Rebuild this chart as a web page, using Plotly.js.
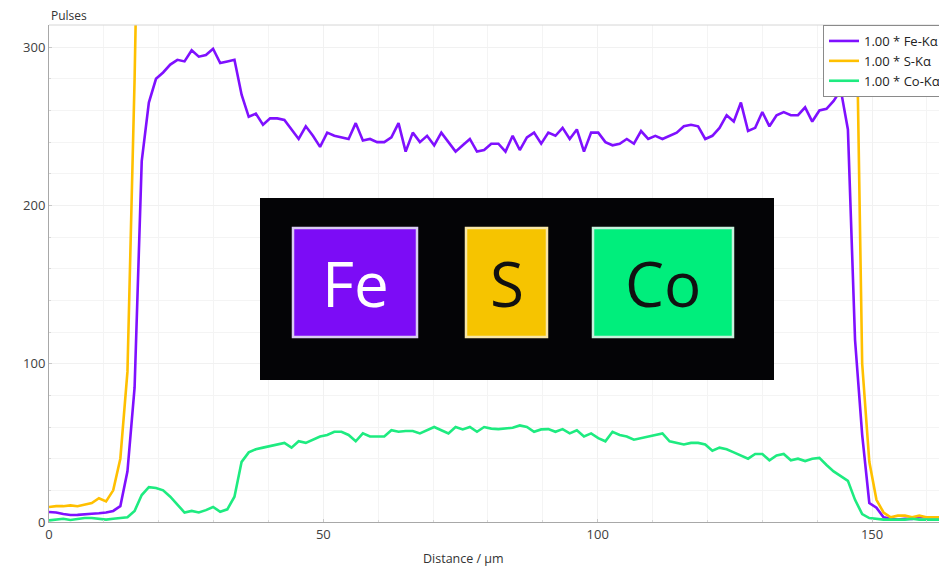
<!DOCTYPE html>
<html>
<head>
<meta charset="utf-8">
<script src="https://cdn.plot.ly/plotly-3.0.1.min.js"></script>
<style>
  html, body { margin: 0; padding: 0; background: #ffffff; }
  #chart { width: 939px; height: 568px; }
</style>
</head>
<body>
<div id="chart"></div>
<script>
// Line scan positions (µm)
const distance = [
  0, 1.3, 2.6, 3.9, 5.2, 6.5, 7.8, 9.1, 10.4, 11.7,
  13.0, 14.3, 15.6, 16.9, 18.2, 19.5, 20.8, 22.1, 23.4, 24.7,
  26.0, 27.3, 28.6, 29.9, 31.2, 32.5, 33.8, 35.1, 36.4, 37.7,
  39.0, 40.3, 41.6, 42.9, 44.2, 45.5, 46.8, 48.1, 49.4, 50.7,
  52.0, 53.3, 54.6, 55.9, 57.2, 58.5, 59.8, 61.1, 62.4, 63.7,
  65.0, 66.3, 67.6, 68.9, 70.2, 71.5, 72.8, 74.1, 75.4, 76.7,
  78.0, 79.3, 80.6, 81.9, 83.2, 84.5, 85.8, 87.1, 88.4, 89.7,
  91.0, 92.3, 93.6, 94.9, 96.2, 97.5, 98.8, 100.1, 101.4, 102.7,
  104.0, 105.3, 106.6, 107.9, 109.2, 110.5, 111.8, 113.1, 114.4, 115.7,
  117.0, 118.3, 119.6, 120.9, 122.2, 123.5, 124.8, 126.1, 127.4, 128.7,
  130.0, 131.3, 132.6, 133.9, 135.2, 136.5, 137.8, 139.1, 140.4, 141.7,
  143.0, 144.3, 145.6, 146.9, 148.2, 149.5, 150.8, 152.1, 153.4, 154.7,
  156.0, 157.3, 158.6, 159.9, 161.2, 162.5
];

// Fe-Kα counts
const feK = [
  6.3, 6, 5, 4.4, 4.5, 5, 5.2, 5.5, 6, 7,
  10, 32, 85, 228, 265, 280, 284, 289, 292, 291,
  298, 294, 295, 299, 290, 291, 292, 270, 256, 258,
  251, 255, 255, 254, 248, 242, 250, 244, 237, 246,
  244, 243, 242, 252, 241, 242, 240, 240, 243, 252,
  234, 246, 240, 244, 238, 246, 240, 234, 238, 242,
  234, 235, 239, 239, 234, 244, 235, 243, 246, 239,
  246, 244, 249, 242, 248, 234, 246, 246, 240, 238,
  239, 242, 239, 247, 242, 244, 242, 244, 246, 250,
  251, 250, 242, 244, 249, 257, 253, 265, 247, 249,
  259, 250, 257, 259, 257, 257, 262, 253, 260, 261,
  266, 273, 248, 115, 55, 12, 9, 3, 2, 1.5,
  2, 2, 3, 3, 3, 3
];

// S-Kα counts (saturates far above the visible range inside the grain)
const sK = [
  9.5, 10, 10, 10.5, 10, 11, 12, 15, 13, 20,
  40, 95, 280, 520, 690, 760, 742, 781, 770, 795,
  806, 788, 812, 799, 784, 776, 790, 752, 731, 744,
  728, 736, 741, 725, 719, 733, 722, 716, 727, 738,
  721, 712, 730, 724, 709, 718, 726, 714, 707, 721,
  713, 729, 718, 704, 716, 722, 711, 703, 719, 726,
  708, 714, 720, 706, 712, 724, 709, 717, 721, 705,
  716, 711, 723, 708, 719, 702, 714, 720, 709, 716,
  722, 707, 713, 725, 711, 718, 706, 714, 721, 727,
  716, 722, 710, 718, 729, 735, 724, 741, 728, 733,
  746, 738, 744, 750, 742, 736, 748, 731, 739, 722,
  684, 612, 520, 380, 100, 38, 14, 6, 3, 4,
  4, 3, 4, 3, 3, 3
];

// Co-Kα counts
const coK = [
  1, 1.5, 2, 1.3, 2, 2.5, 2.5, 2, 1.5, 2,
  2.5, 3, 7, 17, 22, 21.5, 20, 16, 11, 6,
  7, 6, 7.5, 9.5, 6.5, 8, 16, 38, 44, 46,
  47, 48, 49, 50, 47, 51, 50, 52, 54, 55,
  57, 57, 55, 51, 56, 54, 54, 54, 58, 57,
  57.5, 57.5, 56, 58, 60, 58, 56, 60, 58.5, 60,
  57, 60, 59, 58.7, 59, 59.5, 61, 60, 57, 58.5,
  58.7, 57, 58.7, 56, 58, 54, 56, 53, 51, 57,
  55, 54, 52, 53, 54, 55, 56, 51, 50, 49,
  50, 50, 49, 45, 47, 46, 44, 42, 40, 43,
  43, 39, 42, 43, 39, 40, 38.5, 40, 40.5, 36,
  32, 29, 26, 14, 5, 2.5, 2, 1.5, 1.5, 1.5,
  1.5, 2, 1.5, 1.5, 1.5, 1.5
];

const seriesNames = ['1.00 * Fe-Kα', '1.00 * S-Kα', '1.00 * Co-Kα'];
const seriesColors = ['#7F10FF', '#FFC000', '#1EEB80'];
const xTickVals = [0, 50, 100, 150];
const yTickVals = [0, 100, 200, 300];

// Element swatches shown in the dark panel
const badgeLabels = ['Fe', 'S', 'Co'];
const badgeFill = ['#7C0CF6', '#F6C400', '#00EE7C'];
const badgeEdge = ['#D9CCF2', '#F8E6A6', '#C6F2DC'];
const badgeText = ['#FFFFFF', '#111111', '#111111'];

const W = 939, H = 568;
const M = { l: 49, r: 0, t: 25, b: 46 };
const plotW = W - M.l - M.r, plotH = H - M.t - M.b;
// pixel -> paper helpers for the decorative panel
const px = v => (v - M.l) / plotW;
const py = v => (H - M.b - v) / plotH;

const traces = [feK, sK, coK].map((vals, i) => ({
  type: 'scatter',
  mode: 'lines',
  x: distance,
  y: vals,
  name: seriesNames[i],
  line: { color: seriesColors[i], width: 2.6 },
  cliponaxis: true
}));

const shapes = [
  // light frame along the top of the plot area
  { type: 'line', xref: 'paper', yref: 'paper', x0: 0, x1: 1, y0: 1, y1: 1,
    line: { color: '#d6d6d6', width: 1 } },
  // dark panel
  { type: 'rect', xref: 'paper', yref: 'paper', layer: 'above',
    x0: px(260), x1: px(774), y0: py(380), y1: py(198),
    fillcolor: '#040406', line: { width: 0 } }
];

const badgeBoxes = [[293, 417], [466, 547], [593, 733]];
const annotations = [
  { xref: 'paper', yref: 'paper', x: 0, y: py(15), xanchor: 'left', yanchor: 'middle',
    text: 'Pulses', showarrow: false,
    font: { family: 'Open Sans, Noto Sans, sans-serif', size: 12, color: '#333333' } },
  { xref: 'paper', yref: 'paper', x: px(463), y: py(558), xanchor: 'center', yanchor: 'middle',
    text: 'Distance / µm', showarrow: false,
    font: { family: 'Open Sans, Noto Sans, sans-serif', size: 12.5, color: '#333333' } }
];

badgeLabels.forEach((lab, i) => {
  const [a, b] = badgeBoxes[i];
  shapes.push({
    type: 'rect', xref: 'paper', yref: 'paper', layer: 'above',
    x0: px(a), x1: px(b), y0: py(337), y1: py(228),
    fillcolor: badgeFill[i], line: { color: badgeEdge[i], width: 2.5 }
  });
  annotations.push({
    xref: 'paper', yref: 'paper', x: px((a + b) / 2), y: py(283),
    xanchor: 'center', yanchor: 'middle', showarrow: false, text: lab,
    font: { family: 'Open Sans, Noto Sans, sans-serif', size: 62, color: badgeText[i] }
  });
});

const tickFont = { family: 'Open Sans, Noto Sans, sans-serif', size: 13, color: '#404040' };

const layout = {
  width: W, height: H,
  margin: { l: M.l, r: M.r, t: M.t, b: M.b, autoexpand: false },
  paper_bgcolor: '#ffffff',
  plot_bgcolor: '#ffffff',
  showlegend: true,
  legend: {
    x: px(823), y: 1, xanchor: 'left', yanchor: 'top',
    bgcolor: '#ffffff', bordercolor: '#8a8a8a', borderwidth: 1,
    font: { family: 'Open Sans, Noto Sans, sans-serif', size: 13, color: '#222222' },
    tracegroupgap: 0
  },
  xaxis: {
    range: [0, 162.2], tickvals: xTickVals, ticktext: xTickVals.map(String),
    showline: true, linecolor: '#a8a8a8', linewidth: 1,
    ticks: 'inside', ticklen: 3, tickcolor: '#c8c8c8',
    showgrid: true, gridcolor: '#f1f1f1', gridwidth: 1,
    minor: { dtick: 10, showgrid: true, gridcolor: '#f4f4f4', ticks: 'inside', ticklen: 2, tickcolor: '#d8d8d8' },
    zeroline: false, tickfont: tickFont, fixedrange: true
  },
  yaxis: {
    range: [0, 314], tickvals: yTickVals, ticktext: yTickVals.map(String),
    showline: true, linecolor: '#a8a8a8', linewidth: 1,
    ticks: 'inside', ticklen: 3, tickcolor: '#c8c8c8',
    showgrid: true, gridcolor: '#f1f1f1', gridwidth: 1,
    minor: { dtick: 20, showgrid: true, gridcolor: '#f4f4f4', ticks: 'inside', ticklen: 2, tickcolor: '#d8d8d8' },
    zeroline: false, tickfont: tickFont, fixedrange: true
  },
  shapes: shapes,
  annotations: annotations,
  hovermode: false
};

Plotly.newPlot('chart', traces, layout, { staticPlot: true, displayModeBar: false });
</script>
</body>
</html>
